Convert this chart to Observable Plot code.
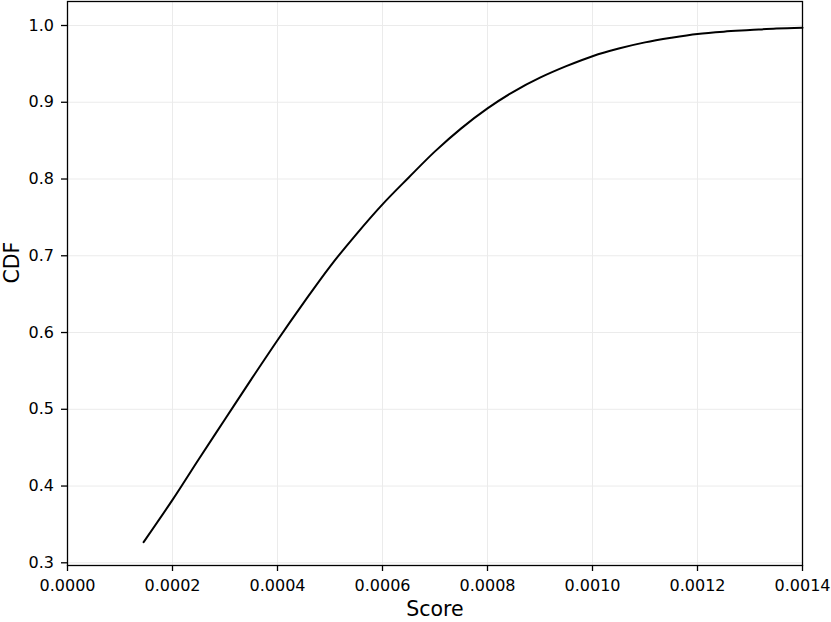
<!DOCTYPE html>
<html><head><meta charset="utf-8">
<script src="https://cdn.jsdelivr.net/npm/d3@7"></script>
<script src="https://cdn.jsdelivr.net/npm/@observablehq/plot@0.6"></script>
<style>body{margin:0;background:#fff}</style>
</head><body><div id="chart"></div>
<script>
const scores = [0.000145, 0.0002, 0.00025, 0.0003, 0.00035, 0.0004, 0.00045, 0.0005, 0.00055, 0.0006, 0.00065, 0.0007, 0.00075, 0.0008, 0.00085, 0.0009, 0.00095, 0.001, 0.00105, 0.0011, 0.00115, 0.0012, 0.00125, 0.0013, 0.00135, 0.0014];
const cdf = [0.327, 0.382, 0.435, 0.487, 0.539, 0.590, 0.639, 0.686, 0.728, 0.767, 0.802, 0.836, 0.866, 0.892, 0.914, 0.932, 0.947, 0.960, 0.970, 0.978, 0.984, 0.989, 0.992, 0.994, 0.996, 0.997];
const xTicks = [0, 0.0002, 0.0004, 0.0006, 0.0008, 0.0010, 0.0012, 0.0014];
const yTicks = [0.3, 0.4, 0.5, 0.6, 0.7, 0.8, 0.9, 1.0];
const xLabel = "Score";
const yLabel = "CDF";

const data = scores.map((s, i) => ({score: s, cdf: cdf[i]}));

const chart = Plot.plot({
  width: 831, height: 622,
  marginLeft: 67, marginRight: 29, marginTop: 1, marginBottom: 57,
  style: {fontFamily: "DejaVu Sans", fontSize: "16px", background: "#fff", color: "#000"},
  x: {domain: [0, 0.0014]},
  y: {domain: [0.29648, 1.03127]},
  marks: [
    Plot.gridX(xTicks, {stroke: "#ebebeb", strokeOpacity: 1, strokeWidth: 1}),
    Plot.gridY(yTicks, {stroke: "#ebebeb", strokeOpacity: 1, strokeWidth: 1}),
    Plot.line(data, {x: "score", y: "cdf", stroke: "#000", strokeWidth: 2, curve: "catmull-rom"}),
    Plot.frame({stroke: "#000", strokeWidth: 1.3}),
    Plot.axisX(xTicks, {tickFormat: d3.format(".4f"), tickSize: 6, tickPadding: 8.5, label: null, strokeWidth: 1.3}),
    Plot.axisY(yTicks, {tickFormat: d3.format(".1f"), tickSize: 6, tickPadding: 7.5, label: null, strokeWidth: 1.3}),
    Plot.text([xLabel], {text: d => d, frameAnchor: "bottom", dy: 50, fontSize: 20.5}),
    Plot.text([yLabel], {text: d => d, frameAnchor: "left", rotate: -90, dx: -55.5, fontSize: 20.5})
  ]
});
document.getElementById("chart").appendChild(chart);
</script>
</body></html>
